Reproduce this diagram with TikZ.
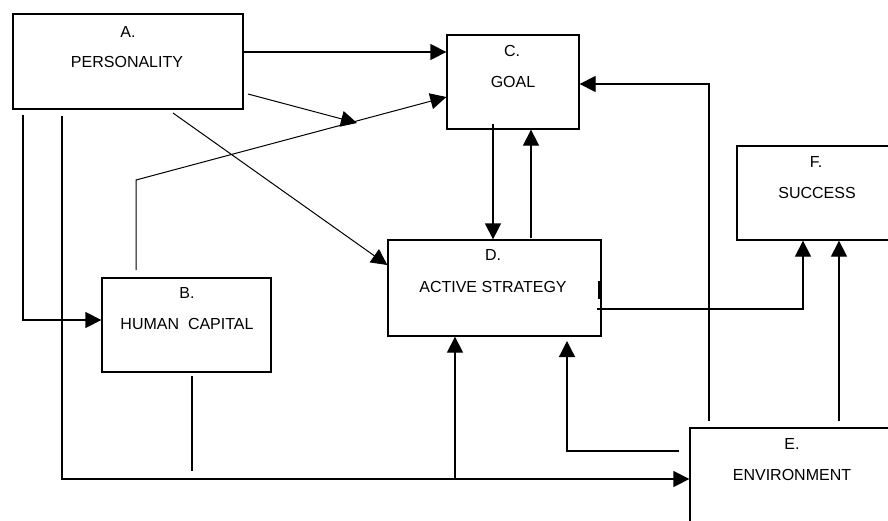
\documentclass[tikz,border=0pt]{standalone}
\usepackage{fontspec}
\setmainfont{Liberation Sans}
\usetikzlibrary{arrows.meta}
\begin{document}
\begin{tikzpicture}[x=1pt,y=-1pt,
  box/.style={draw,line width=1.3pt,rectangle,inner sep=0pt},
  lbl/.style={inner sep=0pt,font=\fontsize{16}{19}\selectfont},
  conn/.style={line width=1.3pt},
  arr/.style={line width=1.3pt,-{Triangle[length=16pt,width=16pt]}},
  thinarr/.style={line width=1pt,-{Triangle[length=16pt,width=16pt]}}]
\clip (0,0) rectangle (888,520);
\fill[white] (0,0) rectangle (888,520);
% boxes
\node[box,minimum width=230pt,minimum height=95pt] (A) at (128,61.5) {};
\node[box,minimum width=132pt,minimum height=94pt] (C) at (513,82) {};
\node[box,minimum width=163pt,minimum height=94pt] (F) at (818.5,193) {};
\node[box,minimum width=213pt,minimum height=96pt] (D) at (494.5,288) {};
\node[box,minimum width=169pt,minimum height=94pt] (B) at (186.5,325) {};
\node[box,minimum width=210pt,minimum height=112pt] (E) at (795,484) {};
% labels
\node[lbl] (A1) at (128,32) {A.};
\node[lbl] (A2) at (127,62) {PERSONALITY};
\node[lbl] (C1) at (512,51) {C.};
\node[lbl] (C2) at (513,82) {GOAL};
\node[lbl] (F1) at (816,162) {F.};
\node[lbl] (F2) at (817,193) {SUCCESS};
\node[lbl] (D1) at (493,255) {D.};
\node[lbl] (D2) at (493,287) {ACTIVE STRATEGY};
\node[lbl] (B1) at (187,293) {B.};
\node[lbl] (B2) at (187,324) {HUMAN\ \ CAPITAL};
\node[lbl] (E1) at (792,444) {E.};
\node[lbl] (E2) at (792,475) {ENVIRONMENT};
% free ends
\coordinate (a2s) at (248,94);
\coordinate (a2e) at (357,123);
\coordinate (b3s) at (136,270);
\coordinate (b3k) at (136,180);
\coordinate (a4s) at (173,113);
\coordinate (a5s) at (23,115);
\coordinate (a5k) at (23,320);
\coordinate (a6s) at (62,116);
\coordinate (a6k) at (62,479);
\coordinate (b7s) at (192,376);
\coordinate (b7e) at (192,471);
\coordinate (j8) at (455,479);
\coordinate (e9s) at (679,451);
\coordinate (e9k) at (567,451);
\coordinate (e9e) at (567,341);
\coordinate (e10s) at (709,421);
\coordinate (e10k) at (709,84);
\coordinate (e11s) at (839,421);
\coordinate (d12s) at (597,309);
\coordinate (d12k) at (803,309);
\coordinate (c13s) at (493,124);
\coordinate (d14s) at (531,238);
% connectors
\draw[arr] (A.east |- 0,52) -- (C.west |- 0,52);
\draw[thinarr] (a2s) -- (a2e);
\draw[thinarr] (b3s) -- (b3k) -- (C.west |- 0,97);
\draw[thinarr] (a4s) -- (D.west |- 0,265);
\draw[arr] (a5s) -- (a5k) -- (B.west |- a5k);
\draw[arr] (a6s) -- (a6k) -- (E.west |- a6k);
\draw[conn] (b7s) -- (b7e);
\draw[arr] (j8) -- (D.south -| j8);
\draw[arr] (e9s) -- (e9k) -- (e9e);
\draw[arr] (e10s) -- (e10k) -- (C.east |- e10k);
\draw[arr] (e11s) -- (F.south -| e11s);
\draw[arr] (d12s) -- (d12k) -- (F.south -| d12k);
\draw[arr] (c13s) -- (D.north -| c13s);
\draw[arr] (d14s) -- (C.south -| d14s);
\draw[line width=2.5pt] (599,281) -- (599,299);
\end{tikzpicture}
\end{document}
